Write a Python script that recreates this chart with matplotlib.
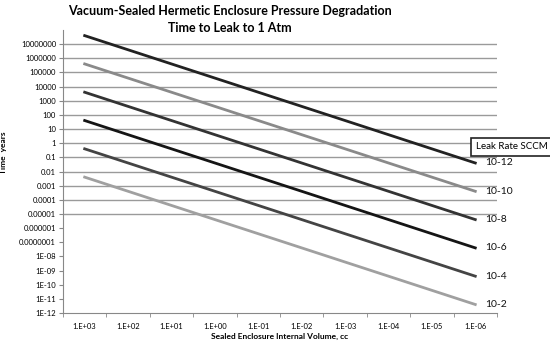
import numpy as np
import matplotlib.pyplot as plt

# Sealed enclosure volume categories (cc)
volumes = ["1.E+03", "1.E+02", "1.E+01", "1.E+00", "1.E-01",
           "1.E-02", "1.E-03", "1.E-04", "1.E-05", "1.E-06"]

# time to leak up to 1 atm, years, for each leak rate (SCCM)
rate_labels = ["10-12", "10-10", "10-8", "10-6", "10-4", "10-2"]
t_1e12 = [4e7, 4e6, 4e5, 4e4, 4e3, 4e2, 4e1, 4e0, 4e-1, 4e-2]
t_1e10 = [4e5, 4e4, 4e3, 4e2, 4e1, 4e0, 4e-1, 4e-2, 4e-3, 4e-4]
t_1e8 = [4e3, 4e2, 4e1, 4e0, 4e-1, 4e-2, 4e-3, 4e-4, 4e-5, 4e-6]
t_1e6 = [4e1, 4e0, 4e-1, 4e-2, 4e-3, 4e-4, 4e-5, 4e-6, 4e-7, 4e-8]
t_1e4 = [4e-1, 4e-2, 4e-3, 4e-4, 4e-5, 4e-6, 4e-7, 4e-8, 4e-9, 4e-10]
t_1e2 = [4e-3, 4e-4, 4e-5, 4e-6, 4e-7, 4e-8, 4e-9, 4e-10, 4e-11, 4e-12]
series = [t_1e12, t_1e10, t_1e8, t_1e6, t_1e4, t_1e2]

colors = ["#222222", "#8a8a8a", "#333333", "#151515", "#444444", "#a0a0a0"]

ytick_vals = [1e7, 1e6, 1e5, 1e4, 1e3, 1e2, 1e1, 1, 0.1, 0.01, 0.001, 1e-4,
              1e-5, 1e-6, 1e-7, 1e-8, 1e-9, 1e-10, 1e-11, 1e-12]
ytick_text = ["10000000", "1000000", "100000", "10000", "1000", "100", "10",
              "1", "0.1", "0.01", "0.001", "0.0001", "0.00001", "0.000001",
              "0.0000001", "1E-08", "1E-09", "1E-10", "1E-11", "1E-12"]
grid_vals = [1e7, 1e6, 1e5, 1e4, 1e3, 1e2, 1e1, 1, 0.1, 0.01, 0.001, 1e-4, 1e-5]

plt.rcParams['font.family'] = ['Lato', 'DejaVu Sans']

fig = plt.figure(figsize=(5.5, 3.44), dpi=100)
ax = fig.add_axes([0.1145, 0.0901, 0.7891, 0.8227])

x = np.arange(len(volumes))
ax.hlines(grid_vals, -0.5, len(volumes) - 0.5, color="#9a9a9a", lw=1.0, zorder=1)

for vals, c, lab in zip(series, colors, rate_labels):
    ax.plot(x, vals, color=c, lw=2.0, zorder=3)
    ax.text(len(volumes) - 1 + 0.23, vals[-1], lab, fontsize=7.5,
            va="center", ha="left", color="#111111")

ax.set_yscale("log")
ax.set_ylim(1e-12, 1e8)
ax.set_xlim(-0.5, len(volumes) - 0.5)

ax.set_yticks(ytick_vals)
ax.set_yticklabels(ytick_text)
ax.yaxis.set_minor_locator(plt.NullLocator())
ax.set_xticks(x)
ax.set_xticklabels(volumes)
ax.set_xticks(np.arange(-0.5, len(volumes)), minor=True)
ax.tick_params(axis="x", which="major", length=0, labelsize=5.5, pad=7)
ax.tick_params(axis="x", which="minor", length=3, color="#888888")
ax.tick_params(axis="y", length=3, color="#888888", labelsize=5.5, pad=2)

for s in ["top", "right"]:
    ax.spines[s].set_visible(False)
for s in ["left", "bottom"]:
    ax.spines[s].set_color("#888888")

ax.set_xlabel("Sealed Enclosure Internal Volume, cc", fontsize=6,
              fontweight="bold", labelpad=2)
ax.set_ylabel("Time  years", fontsize=6, fontweight="bold")
ax.yaxis.set_label_coords(-0.128, 0.565)

fig.text(0.418, 0.968, "Vacuum-Sealed Hermetic Enclosure Pressure Degradation",
         ha="center", va="center", fontsize=9, fontweight="bold")
fig.text(0.418, 0.92, "Time to Leak to 1 Atm",
         ha="center", va="center", fontsize=9, fontweight="bold")

fig.text(0.9955, 0.573, "Leak Rate SCCM", ha="right", va="center", fontsize=7,
         bbox=dict(boxstyle="square,pad=0.45", fc="white", ec="#222222", lw=1.2))

fig.savefig("out.png", dpi=100)
